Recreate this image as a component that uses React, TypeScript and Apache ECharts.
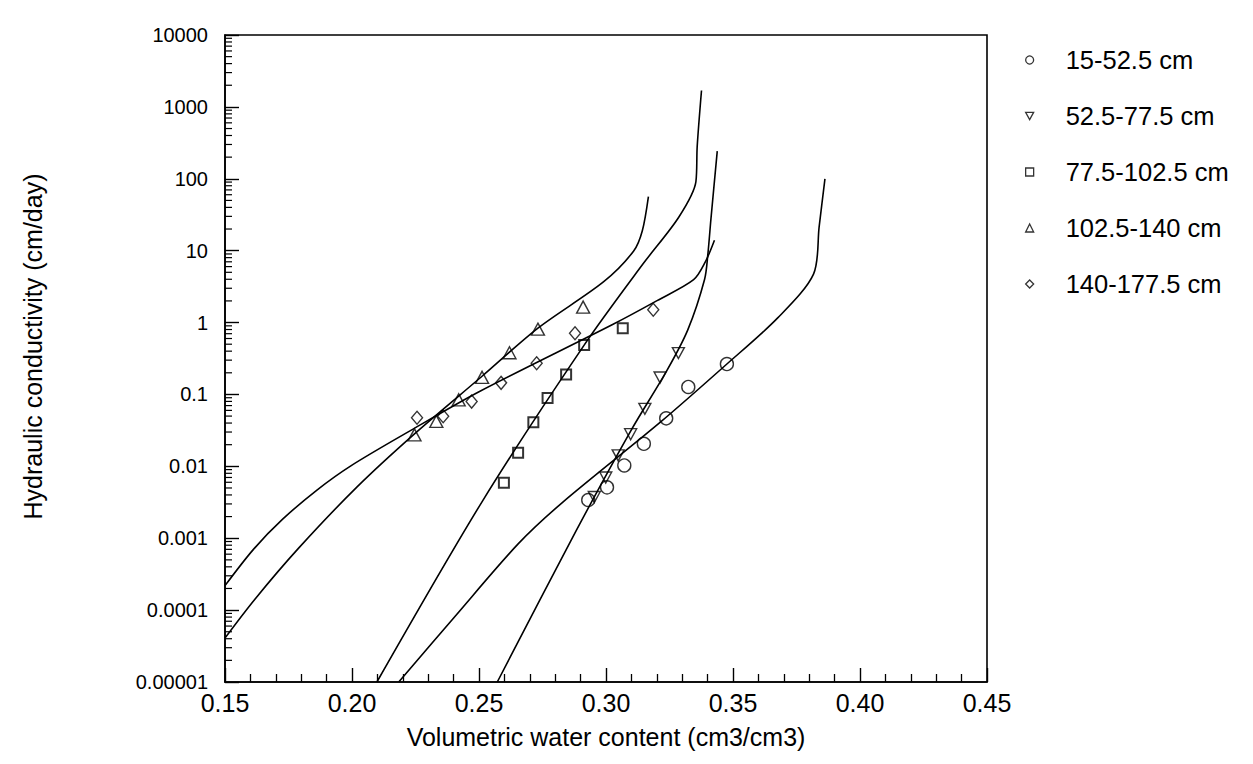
import { useEffect, useRef } from "react";
import * as echarts from "echarts";

const FONT = "'Liberation Sans', Arial, Helvetica, sans-serif";

// Depth intervals shown in the legend
const depthNames = ["15-52.5 cm", "52.5-77.5 cm", "77.5-102.5 cm", "102.5-140 cm", "140-177.5 cm"];

// Tick labels
const xTickValues = [0.15, 0.2, 0.25, 0.3, 0.35, 0.4, 0.45];
const xTickLabels = ["0.15", "0.20", "0.25", "0.30", "0.35", "0.40", "0.45"];
const yTickValues = [1e-5, 1e-4, 1e-3, 1e-2, 1e-1, 1, 10, 100, 1000, 10000];
const yTickLabels = ["0.00001", "0.0001", "0.001", "0.01", "0.1", "1", "10", "100", "1000", "10000"];

// Measured points: volumetric water content (cm3/cm3) and hydraulic conductivity (cm/day)
const theta15 = [0.293, 0.3004, 0.3072, 0.3149, 0.3237, 0.3324, 0.3476];
const k15 = [0.0034, 0.0051, 0.0103, 0.0206, 0.0465, 0.127, 0.265];

const theta52 = [0.2954, 0.2999, 0.3048, 0.3097, 0.3153, 0.3213, 0.3285];
const k52 = [0.00375, 0.007, 0.0142, 0.028, 0.0631, 0.172, 0.376];

const theta77 = [0.2598, 0.2654, 0.2714, 0.277, 0.2843, 0.2914, 0.3066];
const k77 = [0.0059, 0.0155, 0.041, 0.0894, 0.189, 0.486, 0.832];

const theta102 = [0.2246, 0.2332, 0.242, 0.2512, 0.262, 0.2732, 0.291];
const k102 = [0.0274, 0.0422, 0.0841, 0.173, 0.38, 0.81, 1.64];

const theta140 = [0.2256, 0.2359, 0.2471, 0.2587, 0.2727, 0.2878, 0.3186];
const k140 = [0.0474, 0.0498, 0.0796, 0.145, 0.272, 0.709, 1.51];

// Fitted conductivity curves
const fitTheta15 = [0.2184, 0.2407, 0.2655, 0.2828, 0.3214, 0.3476, 0.3676, 0.3817, 0.3839, 0.3862];
const fitK15 = [1e-5, 8.3e-5, 8.4e-4, 0.00313, 0.0411, 0.265, 1.16, 4.72, 21.3, 99.7];

const fitTheta52 = [0.2572, 0.2879, 0.3097, 0.324, 0.3322, 0.3388, 0.3401, 0.3413, 0.3438];
const fitK52 = [1e-5, 0.001206, 0.0309, 0.216, 0.791, 3.97, 8.87, 27.3, 242];

const fitTheta77 = [0.2098, 0.2513, 0.2914, 0.3146, 0.3287, 0.3354, 0.3359, 0.3376];
const fitK77 = [1e-5, 0.00326, 0.486, 6.56, 29.4, 91.2, 280, 1690];

const fitTheta102 = [0.15, 0.1617, 0.1789, 0.2019, 0.2246, 0.2512, 0.2732, 0.2991, 0.3109, 0.3143, 0.3167];
const fitK102 = [4.1e-5, 1.41e-4, 7.22e-4, 0.00514, 0.0283, 0.179, 0.837, 3.7, 9.89, 18.9, 56.4];

const fitTheta140 = [0.15, 0.1612, 0.1727, 0.1862, 0.1997, 0.2242, 0.2502, 0.3026, 0.3201, 0.3345, 0.339, 0.3427];
const fitK140 = [2.19e-4, 7.0e-4, 0.00184, 0.00468, 0.01024, 0.0332, 0.11, 0.94, 2.02, 3.94, 6.85, 13.95];

const pairs = (xs: number[], ys: number[]) => xs.map((x, i) => [x, ys[i]]);

const pointSets = [
  { theta: theta15, k: k15 },
  { theta: theta52, k: k52 },
  { theta: theta77, k: k77 },
  { theta: theta102, k: k102 },
  { theta: theta140, k: k140 },
];
const fitSets = [
  { theta: fitTheta15, k: fitK15 },
  { theta: fitTheta52, k: fitK52 },
  { theta: fitTheta77, k: fitK77 },
  { theta: fitTheta102, k: fitK102 },
  { theta: fitTheta140, k: fitK140 },
];

// Marker shapes: circle, downward triangle, square, triangle, diamond
const downTriangle = "path://M0,0 L12,0 L6,11 Z";
const markerSymbols = ["circle", downTriangle, "rect", "triangle", "diamond"];
const markerSizes: (number | number[])[] = [13, [12, 11], 10, [13, 12], [11, 13]];
const markerBorders = [1.4, 1.4, 2, 1.4, 1.4];

// Log-scale minor ticks (2..9 per decade) on the left axis
const minorY: number[] = [];
for (let e = -5; e < 4; e++) {
  for (let m = 2; m <= 9; m++) minorY.push(m * Math.pow(10, e));
}

const hollow = (bw: number) => ({
  color: "rgba(255,255,255,0)",
  borderColor: "#000",
  borderWidth: bw,
});

export default function App() {
  const ref = useRef<HTMLDivElement>(null);

  useEffect(() => {
    if (!ref.current) return;
    const chart = echarts.init(ref.current, null, { renderer: "svg" });

    const scatterSeries = pointSets.map((s, i) => ({
      name: depthNames[i],
      type: "scatter",
      data: pairs(s.theta, s.k),
      symbol: markerSymbols[i],
      symbolSize: markerSizes[i],
      itemStyle: hollow(markerBorders[i]),
      z: 4,
    }));

    const fitSeries = fitSets.map((s, i) => ({
      name: depthNames[i] + " fit",
      type: "line",
      data: pairs(s.theta, s.k),
      symbol: "none",
      smooth: 0.3,
      lineStyle: { color: "#000", width: 1.6 },
      z: 3,
    }));

    const option = {
      animation: false,
      backgroundColor: "#fff",
      textStyle: { fontFamily: FONT, color: "#000" },
      grid: {
        left: 225,
        top: 35,
        width: 762,
        height: 647,
        show: true,
        borderColor: "#000",
        borderWidth: 1.6,
        backgroundColor: "transparent",
      },
      legend: {
        orient: "vertical",
        left: 1020,
        top: 42,
        itemWidth: 8,
        itemHeight: 8,
        itemGap: 30,
        selectedMode: false,
        data: depthNames.map((n, i) => ({
          name: n,
          icon: markerSymbols[i],
          itemStyle: hollow(1.3),
        })),
        textStyle: {
          fontFamily: FONT,
          fontSize: 25.5,
          lineHeight: 25,
          color: "#000",
          padding: [0, 0, 0, 27],
        },
      },
      xAxis: {
        type: "value",
        min: 0.15,
        max: 0.45,
        interval: 0.05,
        name: "Volumetric water content (cm3/cm3)",
        nameLocation: "middle",
        nameGap: 42,
        nameTextStyle: { fontFamily: FONT, fontSize: 25, color: "#000" },
        axisLine: { lineStyle: { color: "#000", width: 1.6 } },
        axisTick: { inside: true, length: 14, lineStyle: { color: "#000", width: 1.4 } },
        minorTick: { show: true, splitNumber: 5, length: 8, lineStyle: { color: "#000", width: 1.3 } },
        axisLabel: {
          fontFamily: FONT,
          fontSize: 25,
          color: "#000",
          margin: 8,
          formatter: (v: number) => {
            const i = xTickValues.findIndex((t) => Math.abs(t - v) < 1e-9);
            return i >= 0 ? xTickLabels[i] : "";
          },
        },
        splitLine: { show: false },
        minorSplitLine: { show: false },
      },
      yAxis: {
        type: "log",
        logBase: 10,
        min: 1e-5,
        max: 1e4,
        splitNumber: 9,
        name: "Hydraulic conductivity (cm/day)",
        nameLocation: "middle",
        nameGap: 180,
        nameTextStyle: { fontFamily: FONT, fontSize: 25, color: "#000", padding: [0, 0, 0, 24] },
        axisLine: { lineStyle: { color: "#000", width: 1.6 } },
        axisTick: { inside: true, length: 14, lineStyle: { color: "#000", width: 1.4 } },
        axisLabel: {
          fontFamily: FONT,
          fontSize: 20,
          color: "#000",
          margin: 17,
          formatter: (v: number) => {
            const i = yTickValues.findIndex((t) => Math.abs(Math.log10(t) - Math.log10(v)) < 1e-6);
            return i >= 0 ? yTickLabels[i] : "";
          },
        },
        splitLine: { show: false },
      },
      series: [
        ...fitSeries,
        ...scatterSeries,
        {
          name: "minor ticks",
          type: "custom",
          silent: true,
          clip: false,
          data: minorY.map((v) => [0.15, v]),
          renderItem: (_params: any, api: any) => {
            const p = api.coord([api.value(0), api.value(1)]);
            return {
              type: "line",
              shape: { x1: p[0], y1: p[1], x2: p[0] + 7, y2: p[1] },
              style: { stroke: "#000", lineWidth: 1.2 },
            };
          },
          z: 5,
        },
      ],
    };

    chart.setOption(option as any);
    return () => chart.dispose();
  }, []);

  return (
    <div
      ref={ref}
      style={{ position: "fixed", left: 0, top: 0, width: 1253, height: 764, background: "#fff" }}
    />
  );
}
